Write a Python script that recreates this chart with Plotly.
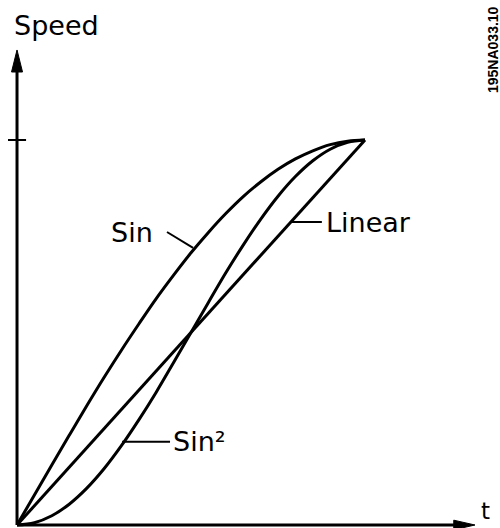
import plotly.graph_objects as go

# Values (t and speed normalised to 0..1)
t_vals = [0.0, 0.05, 0.1, 0.15, 0.2, 0.25, 0.3, 0.35, 0.4, 0.45, 0.5,
          0.55, 0.6, 0.65, 0.7, 0.75, 0.8, 0.85, 0.9, 0.95, 1.0]
sin_vals = [0.0, 0.078, 0.156, 0.233, 0.309, 0.383, 0.454, 0.522, 0.588, 0.649, 0.707,
            0.760, 0.809, 0.853, 0.891, 0.924, 0.951, 0.972, 0.988, 0.997, 1.0]
sin2_vals = [0.0, 0.006, 0.024, 0.054, 0.095, 0.146, 0.206, 0.273, 0.345, 0.422, 0.500,
             0.578, 0.655, 0.727, 0.794, 0.854, 0.905, 0.946, 0.976, 0.994, 1.0]
lin_t = [0.0, 1.0]
lin_vals = [0.0, 1.0]

FONT = "DejaVu Sans"
LW = 3

fig = go.Figure()
fig.add_trace(go.Scatter(x=t_vals, y=sin_vals, mode="lines",
                         line=dict(color="black", width=LW, shape="spline", smoothing=1),
                         hoverinfo="skip"))
fig.add_trace(go.Scatter(x=t_vals, y=sin2_vals, mode="lines",
                         line=dict(color="black", width=LW, shape="spline", smoothing=1),
                         hoverinfo="skip"))
fig.add_trace(go.Scatter(x=lin_t, y=lin_vals, mode="lines",
                         line=dict(color="black", width=LW), hoverinfo="skip"))

shapes = []
# axes
shapes.append(dict(type="line", x0=0, y0=0, x1=1.27, y1=0, line=dict(color="black", width=LW)))
shapes.append(dict(type="line", x0=0, y0=0, x1=0, y1=1.19, line=dict(color="black", width=LW)))
# arrowheads
shapes.append(dict(type="path", path="M 1.316 0 L 1.255 0.0125 L 1.255 -0.0125 Z",
                   fillcolor="black", line=dict(color="black", width=1)))
shapes.append(dict(type="path", path="M 0 1.2338 L 0.0158 1.1766 L -0.0158 1.1766 Z",
                   fillcolor="black", line=dict(color="black", width=1)))
# tick at max speed
shapes.append(dict(type="line", x0=-0.026, y0=1.0, x1=0.026, y1=1.0, line=dict(color="black", width=2)))
# leader lines
shapes.append(dict(type="line", x0=0.431, y0=0.761, x1=0.506, y1=0.720, line=dict(color="black", width=2)))
shapes.append(dict(type="line", x0=0.790, y0=0.787, x1=0.876, y1=0.787, line=dict(color="black", width=2)))
shapes.append(dict(type="line", x0=0.302, y0=0.216, x1=0.4397, y1=0.216, line=dict(color="black", width=2)))

annotations = [
    dict(x=0.397, y=0.761, text="Sin", showarrow=False, xanchor="right", yanchor="middle",
         font=dict(family=FONT, size=27, color="black")),
    dict(x=0.882, y=0.787, text="Linear", showarrow=False, xanchor="left", yanchor="middle",
         font=dict(family=FONT, size=27, color="black")),
    dict(x=0.442, y=0.216, text="Sin²", showarrow=False, xanchor="left", yanchor="middle",
         font=dict(family=FONT, size=27, color="black")),
    dict(x=12/500, y=1 - 25/528, xref="paper", yref="paper", text="Speed", showarrow=False,
         xanchor="left", yanchor="middle", font=dict(family=FONT, size=27, color="black")),
    dict(x=485/500, y=1 - 511/528, xref="paper", yref="paper", text="t", showarrow=False,
         xanchor="center", yanchor="middle", font=dict(family=FONT, size=23, color="black")),
    dict(x=493/500, y=1 - 50/528, xref="paper", yref="paper", text="<b>195NA033.10</b>",
         showarrow=False, textangle=-90, xanchor="center", yanchor="middle",
         font=dict(family="Liberation Sans Narrow, Liberation Sans", size=14, color="black")),
]

fig.update_layout(
    width=500, height=528,
    margin=dict(l=0, r=0, t=0, b=0),
    paper_bgcolor="white", plot_bgcolor="white",
    showlegend=False,
    xaxis=dict(range=[-0.0489, 1.3879], visible=False, fixedrange=True),
    yaxis=dict(range=[-0.0078, 1.3636], visible=False, fixedrange=True),
    shapes=shapes, annotations=annotations,
)

fig.write_html("out.html", config={"displayModeBar": False},
               post_script="document.body.style.margin='0';document.body.style.overflow='hidden';")
